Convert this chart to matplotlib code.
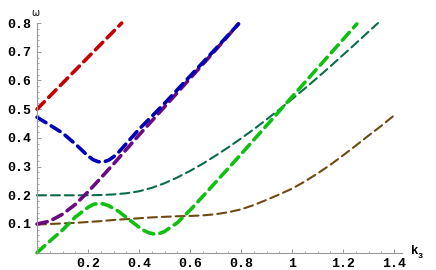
import numpy as np
import matplotlib
matplotlib.use("Agg")
import matplotlib.pyplot as plt

# values (k3, omega)
red_k = [0.0, 0.332]
red_w = [0.5, 0.8]

blue_k = [0.0, 0.05, 0.1, 0.15, 0.2, 0.22, 0.24, 0.26, 0.28, 0.3, 0.32, 0.36, 0.4, 0.45, 0.5, 0.6,
          0.7, 0.79]
blue_w = [0.472, 0.445, 0.417, 0.379, 0.337, 0.324, 0.317, 0.316, 0.322, 0.334, 0.35, 0.39, 0.43,
          0.475, 0.52, 0.615, 0.71, 0.797]

purple_k = [0.0, 0.05, 0.1, 0.15, 0.2, 0.25, 0.3, 0.4, 0.5, 0.6, 0.7, 0.79]
purple_w = [0.1, 0.11, 0.134, 0.168, 0.212, 0.26, 0.309, 0.41, 0.508, 0.607, 0.706, 0.797]

green_k = [0.0, 0.05, 0.1, 0.15, 0.2, 0.22, 0.24, 0.26, 0.28, 0.32, 0.36, 0.4, 0.42, 0.44, 0.46,
           0.48, 0.5, 0.55, 0.6, 0.65, 0.7, 0.8, 0.9, 1.0, 1.1, 1.2, 1.254]
green_w = [0.0, 0.04, 0.079, 0.124, 0.158, 0.168, 0.172, 0.17, 0.164, 0.144, 0.116, 0.089, 0.077,
           0.069, 0.065, 0.067, 0.074, 0.104, 0.148, 0.196, 0.245, 0.343, 0.443, 0.543, 0.643,
           0.743, 0.797]

teal_k = [0.0, 0.05, 0.1, 0.15, 0.2, 0.25, 0.3, 0.35, 0.4, 0.45, 0.5, 0.55, 0.6, 0.65, 0.7, 0.75,
          0.8, 0.85, 0.9, 0.95, 1.0, 1.05, 1.1, 1.15, 1.2, 1.25, 1.3, 1.337]
teal_w = [0.2, 0.2, 0.2, 0.2, 0.2, 0.201, 0.203, 0.207, 0.214, 0.226, 0.242, 0.262, 0.285, 0.31,
          0.338, 0.367, 0.398, 0.43, 0.464, 0.499, 0.535, 0.572, 0.61, 0.649, 0.689, 0.729,
          0.77, 0.8]

brown_k = [0.0, 0.05, 0.1, 0.15, 0.2, 0.25, 0.3, 0.35, 0.4, 0.45, 0.5, 0.55, 0.6, 0.65, 0.7, 0.75,
           0.8, 0.85, 0.9, 0.95, 1.0, 1.05, 1.1, 1.15, 1.2, 1.25, 1.3, 1.35, 1.397]
brown_w = [0.098, 0.1, 0.102, 0.104, 0.107, 0.11, 0.114, 0.117, 0.12, 0.123, 0.125, 0.127, 0.128,
           0.13, 0.134, 0.141, 0.151, 0.166, 0.184, 0.203, 0.223, 0.248, 0.276, 0.306, 0.339,
           0.373, 0.408, 0.442, 0.476]

xticks = [0.2, 0.4, 0.6, 0.8, 1.0, 1.2, 1.4]
xlabels = ["0.2", "0.4", "0.6", "0.8", "1", "1.2", "1.4"]
yticks = [0.1, 0.2, 0.3, 0.4, 0.5, 0.6, 0.7, 0.8]
ylabels = ["0.1", "0.2", "0.3", "0.4", "0.5", "0.6", "0.7", "0.8"]

plt.rcParams["lines.scale_dashes"] = False
tickfont = {"family": "Liberation Mono", "weight": "bold", "size": 9.5}

fig = plt.figure(figsize=(4.36, 2.70), dpi=100)
ax = fig.add_axes([0.0849, 0.0641, 0.8364, 0.8504])

thick = dict(lw=2.6, dashes=(7.5, 4.5), dash_capstyle="round", solid_joinstyle="round",
             clip_on=False)
thin = dict(lw=1.5, dashes=(6.5, 3.5), dash_capstyle="round", solid_joinstyle="round",
            clip_on=False)

ax.plot(teal_k, teal_w, color="#0b6b4c", **thin)
ax.plot(brown_k, brown_w, color="#6e4a12", **thin)
ax.plot(red_k, red_w, color="#c40000", **thick)
ax.plot(purple_k, purple_w, color="#6a0a80", **thick)
ax.plot(blue_k, blue_w, color="#0000b8", **thick)
ax.plot(green_k, green_w, color="#10c010", **thick)

ax.set_xlim(0, 1.43)
ax.set_ylim(0, 0.8)
for s in ["top", "right"]:
    ax.spines[s].set_visible(False)
for s in ["left", "bottom"]:
    ax.spines[s].set_color("#999999")
    ax.spines[s].set_linewidth(0.8)

ax.set_xticks(xticks)
ax.set_xticklabels(xlabels, fontdict=tickfont)
ax.set_yticks(yticks)
ax.set_yticklabels(ylabels, fontdict=tickfont)
ax.set_xticks(np.arange(0.05, 1.43, 0.05), minor=True)
ax.set_yticks(np.arange(0.02, 0.8, 0.02), minor=True)
ax.tick_params(which="major", direction="in", length=3.2, width=0.7, color="#999999", pad=3.5)
ax.tick_params(axis="y", which="major", pad=4.5)
ax.tick_params(which="minor", direction="in", length=1.6, width=0.6, color="#999999")

ax.text(-0.008, 0.835, "ω", fontsize=7, ha="center", va="center", family="DejaVu Sans")
ax.text(1.465, 0.005, "k", fontsize=9, fontweight="bold", family="Liberation Mono",
        ha="left", va="center")
ax.text(1.492, -0.012, "3", fontsize=6, fontweight="bold", family="Liberation Mono",
        ha="left", va="center")

fig.savefig("out.png", dpi=100)
